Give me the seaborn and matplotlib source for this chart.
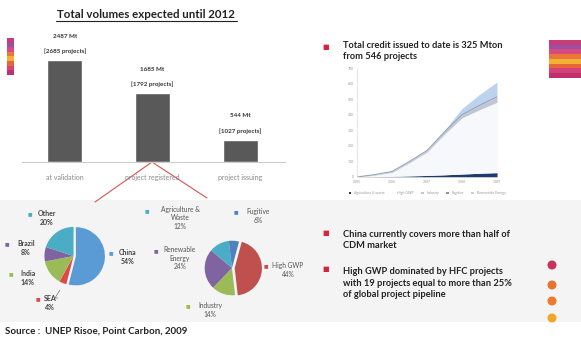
import numpy as np
import pandas as pd
import matplotlib
matplotlib.use("Agg")
import matplotlib.pyplot as plt
import matplotlib.patches as mpatches
import seaborn as sns

# ---- data ----
bar_cats = ["at validation", "project registered", "project issuing"]
bar_mt = [2487, 1685, 544]
bar_projects = [2685, 1792, 1027]

country_names = ["China", "SEA", "India", "Brazil", "Other"]
country_share = [54, 4, 14, 8, 20]

sector_names = ["High GWP", "Industry", "Renewable\nEnergy", "Agriculture &\nWaste", "Fugitive"]
sector_share = [44, 14, 24, 12, 6]

line_x = [0, 0.5, 1, 1.5, 2, 2.5, 3, 3.5, 4]
line_xlabels = ["2005", "2006", "2007", "2008", "2009"]
issued_names = ["Agriculture & waste", "High GWP", "Industry", "Fugitive", "Renewable Energy"]
issued_agri = [0, 2, 4, 7, 10, 14, 19, 24, 28]
issued_hgwp = [0, 10, 26, 85, 150, 261, 361, 408, 452]
issued_ind = [0, 3, 5, 8, 10, 15, 20, 28, 35]
issued_fug = [0, 0, 0, 0, 0, 0, 0, 0, 0]
issued_re = [0, 0, 0, 0, 0, 10, 40, 70, 95]

W, H = 581, 345
sns.set_style("white")
plt.rcParams['font.family'] = ['Lato', 'DejaVu Sans']
fig = plt.figure(figsize=(W / 100, H / 100), dpi=100)


def box(x0, y0, x1, y1):
    return [x0 / W, 1 - y1 / H, (x1 - x0) / W, (y1 - y0) / H]


def txt(x, y, s, **kw):
    fig.text(x / W, 1 - y / H, s, **kw)


# light gray band behind the pies
bg = fig.add_axes([0, 0, 1, 1], zorder=-5)
bg.set_xlim(0, W)
bg.set_ylim(H, 0)
bg.axis("off")
bg.add_patch(mpatches.Rectangle((0, 200), W, 122, color="#f4f4f4", lw=0))

# decorative stripes
stripes = ["#c83c78", "#9a4fa0", "#d84a80", "#e8783a", "#f2b133", "#e8643a", "#d4427a", "#c0306a"]
for i, c in enumerate(stripes):
    bg.add_patch(mpatches.Rectangle((7, 38 + i * 4.6), 7, 4.6, color=c, lw=0))
    bg.add_patch(mpatches.Rectangle((549, 40 + i * 4.7), 32, 4.7, color=c, lw=0))
for yy, c in zip([265, 285, 301, 318], ["#c8325a", "#e8722f", "#ec7a30", "#f0a528"]):
    bg.add_patch(mpatches.Circle((552, yy), 4.5, color=c, lw=0))

# red connector lines from registered bar to pies
bg.plot([152, 95], [162, 202], color="#d9534f", lw=0.8)
bg.plot([152, 207], [162, 198], color="#d9534f", lw=0.8)

# -------- bar chart --------
txt(146, 15, "Total volumes expected until 2012", fontsize=8.3, fontweight="bold",
    ha="center", va="center", color="#222222")
bg.plot([56, 237], [21, 21], color="#222222", lw=0.8)

ax = fig.add_axes(box(22, 30, 285, 162))
df = pd.DataFrame({"cat": bar_cats, "mt": bar_mt})
sns.barplot(data=df, x="cat", y="mt", color="#595959", width=0.4, ax=ax, saturation=1)
ax.set_xlim(-0.49, 2.51)
ax.set_ylim(0, 3220)
ax.set_yticks([])
ax.set_xlabel("")
ax.set_ylabel("")
ax.tick_params(axis="x", length=0, labelsize=5, labelcolor="#888888", pad=9)
for s in ["top", "right", "left"]:
    ax.spines[s].set_visible(False)
ax.spines["bottom"].set_color("#cccccc")
for i, (v, p) in enumerate(zip(bar_mt, bar_projects)):
    ax.annotate(f"{v} Mt", (i, v), xytext=(0, 16), textcoords="offset points",
                ha="center", fontsize=4.5, fontweight="bold", color="#333333")
    ax.annotate(f"[{p} projects]", (i, v), xytext=(0, 5), textcoords="offset points",
                ha="center", fontsize=4.5, fontweight="bold", color="#333333")

# -------- issued credits chart --------
bullet_kw = dict(fontsize=6.7, fontweight="bold", va="center", color="#222222",
                 linespacing=1.4)
txt(322, 47, "■", fontsize=5, color="#d6243a", va="center")
txt(343, 51, "Total credit issued to date is 325 Mton\nfrom 546 projects", **bullet_kw)

ax2 = fig.add_axes(box(357, 68, 497, 177))
ax2.stackplot(line_x, issued_agri, issued_hgwp, issued_ind, issued_fug, issued_re,
              colors=["#1f3a70", "#f7f8fb", "#bfc6d6", "#8a93a8", "#bcd3ee"],
              labels=issued_names, lw=0)
top = np.array(issued_agri) + np.array(issued_hgwp) + np.array(issued_ind)
ax2.plot(line_x, top, color="#98a2b8", lw=0.8)
ax2.set_xlim(0, 4)
ax2.set_ylim(0, 700)
ax2.set_yticks(range(0, 701, 100))
ax2.set_xticks(range(5))
ax2.set_xticklabels(line_xlabels)
ax2.tick_params(labelsize=2.5, labelcolor="#999999", length=0, pad=2)
for s in ["top", "right"]:
    ax2.spines[s].set_visible(False)
for s in ["left", "bottom"]:
    ax2.spines[s].set_color("#dddddd")
    ax2.spines[s].set_linewidth(0.5)
ax2.legend(loc="upper center", bbox_to_anchor=(0.5, -0.1), ncol=5, fontsize=2.5,
           frameon=False, handlelength=0.8, columnspacing=2, labelcolor="#999999")

# -------- pies --------
pie_cols1 = ["#5b9bd5", "#e04848", "#9bbb59", "#8064a2", "#4bacc6"]
ax3 = fig.add_axes(box(43, 224, 107, 288))
ax3.pie(country_share, colors=pie_cols1, startangle=90, counterclock=False,
        explode=[0.08, 0, 0, 0, 0], radius=1, wedgeprops=dict(lw=0))
ax3.set_xlim(-1.05, 1.15)
ax3.set_ylim(-1.1, 1.1)

pie_cols2 = ["#c0504d", "#9bbb59", "#8064a2", "#4bacc6", "#4f81bd"]
ax4 = fig.add_axes(box(202, 238, 266, 298))
ax4.pie(sector_share, colors=pie_cols2, startangle=75, counterclock=False,
        explode=[0.1, 0, 0, 0, 0], radius=1, wedgeprops=dict(lw=0))
ax4.set_xlim(-1.05, 1.2)
ax4.set_ylim(-1.1, 1.1)

lab_kw = dict(fontsize=5, fontweight="bold", color="#444444", ha="center", va="center",
              linespacing=1.2)
cpos = {"Other": (47, 218), "Brazil": (26, 248), "India": (28, 278),
        "SEA": (50, 303), "China": (128, 257)}
for name, share, col in zip(country_names, country_share, pie_cols1):
    x, y = cpos[name]
    txt(x, y, f"{name}\n{share}%", **lab_kw)
    txt(x - len(name) * 2.4 - 5, y - 4, "■", fontsize=3.5, color=col, ha="center", va="center")
bg.plot([60, 55, 58], [290, 298, 298], color="#555555", lw=0.4)

spos = [(288, 270), (210, 310), (180, 258), (180, 218), (258, 216)]
for name, share, col, (x, y) in zip(sector_names, sector_share, pie_cols2, spos):
    txt(x, y, f"{name}\n{share}%", fontsize=4.8, color="#555555", ha="center", va="center",
        linespacing=1.2)
    first = name.split("\n")[0]
    txt(x - len(first) * 2.2 - 4, y - 3 * (name.count("\n") + 1) - 1, "■", fontsize=3.5,
        color=col, ha="center", va="center")

# -------- bullet texts --------
txt(322, 233, "■", fontsize=5, color="#d6243a", va="center")
txt(343, 240, "China currently covers more than half of\nCDM market", **bullet_kw)
txt(322, 268, "■", fontsize=5, color="#d6243a", va="center")
txt(343, 283, "High GWP dominated by HFC projects\nwith 19 projects equal to more than 25%\nof global project pipeline",
    **bullet_kw)

txt(5, 331, "Source :  UNEP Risoe, Point Carbon, 2009", fontsize=7, fontweight="bold",
    va="center", color="#222222")

fig.savefig("out.png", dpi=100)
